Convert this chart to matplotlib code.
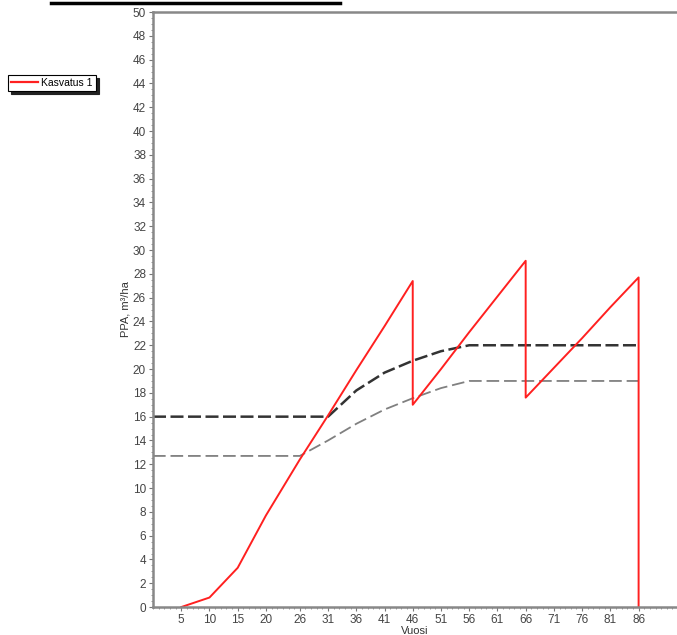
import numpy as np
import matplotlib
matplotlib.use('Agg')
from matplotlib import pyplot as plt
from matplotlib.lines import Line2D
from matplotlib.ticker import MultipleLocator, FixedLocator

plt.rcParams['font.family'] = ['Liberation Sans', 'DejaVu Sans']

# red line: growth with thinnings (year repeated at the drops)
red_x = [5, 10, 15, 20, 26, 31, 36, 41, 46, 46, 51, 56, 61, 66, 66, 71, 76, 81, 86, 86]
red_y = [0, 0.8, 3.3, 7.7, 12.4, 16.1, 19.9, 23.6, 27.4, 17.0, 20.0, 23.1, 26.1, 29.1,
         17.6, 20.1, 22.6, 25.2, 27.7, 0]
# dashed limit lines
lim_x = [0, 26, 31, 36, 41, 46, 51, 56, 61, 66, 71, 76, 81, 86]
upper_y = [16.0, 16.0, 16.0, 18.2, 19.7, 20.7, 21.5, 22.0, 22.0, 22.0, 22.0, 22.0, 22.0, 22.0]
lower_y = [12.7, 12.7, 14.0, 15.4, 16.6, 17.55, 18.4, 19.0, 19.0, 19.0, 19.0, 19.0, 19.0, 19.0]
xticks = [5, 10, 15, 20, 26, 31, 36, 41, 46, 51, 56, 61, 66, 71, 76, 81, 86]

fig = plt.figure(figsize=(6.77, 6.35), dpi=100)
ax = fig.add_axes([0.226, 0.044, 0.774, 0.937])

ax.plot(lim_x, upper_y, color='#333333', lw=1.8, dashes=(5.2, 1.8))
ax.plot(lim_x, lower_y, color='#808080', lw=1.3, dashes=(7, 2.7))
ax.plot(red_x, red_y, color='#ff2020', lw=1.4)

ax.set_xlim(0, 92.8)
ax.set_ylim(0, 50)
ax.xaxis.set_major_locator(FixedLocator(xticks))
ax.xaxis.set_minor_locator(MultipleLocator(1))
ax.yaxis.set_major_locator(MultipleLocator(2))
ax.yaxis.set_minor_locator(MultipleLocator(0.5))
ax.tick_params(which='major', labelsize=8.5, labelcolor='#444444', color='#777777',
               length=3, width=0.8, pad=2)
ax.tick_params(which='minor', color='#888888', length=1.5, width=0.6)

for s in ['left', 'bottom', 'top']:
    ax.spines[s].set_color('#888888')
    ax.spines[s].set_linewidth(1.8)
ax.spines['right'].set_visible(False)

ax.set_ylabel('PPA, m³/ha', fontsize=8, color='#333333', labelpad=2)
ax.set_xlabel('Vuosi', fontsize=8, color='#333333', labelpad=0)

leg = fig.legend([Line2D([], [], color='#ff2020', lw=1.6)], ['Kasvatus 1'],
                 loc='upper left', bbox_to_anchor=(0.012, 0.882), fontsize=7.5,
                 frameon=True, fancybox=False, shadow={'color': '#222222', 'alpha': 1},
                 edgecolor='black', handlelength=2.6, borderpad=0.3,
                 handletextpad=0.3, borderaxespad=0)
leg.get_frame().set_linewidth(0.8)

# underline of the cropped title at the top
fig.add_artist(Line2D([51 / 677, 340 / 677], [1 - 3 / 635, 1 - 3 / 635], color='black', lw=2.5))

plt.savefig('out.png', dpi=100)
